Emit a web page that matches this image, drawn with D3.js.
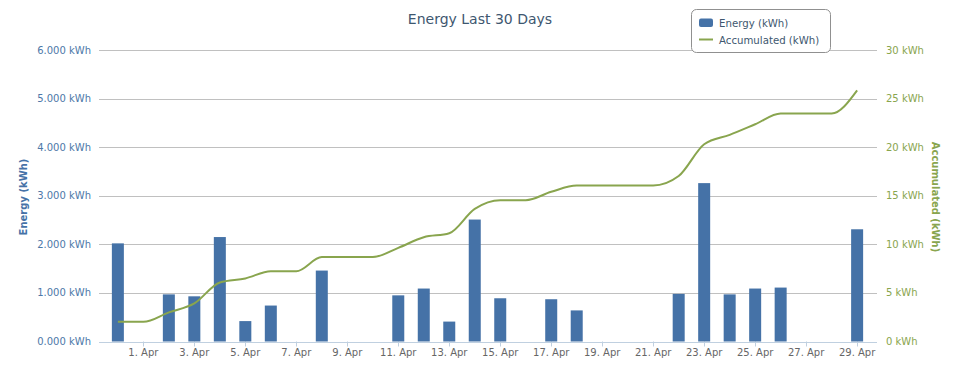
<!DOCTYPE html>
<html><head><meta charset="utf-8">
<script src="https://cdn.jsdelivr.net/npm/d3@7"></script>
<style>body{margin:0;background:#fff}svg{display:block;font-family:"DejaVu Sans",Verdana,sans-serif}</style>
</head><body><svg id="c" width="960" height="378"></svg>
<script>
const dates = ["2013-03-31","2013-04-01","2013-04-02","2013-04-03","2013-04-04","2013-04-05","2013-04-06","2013-04-07","2013-04-08","2013-04-09","2013-04-10","2013-04-11","2013-04-12","2013-04-13","2013-04-14","2013-04-15","2013-04-16","2013-04-17","2013-04-18","2013-04-19","2013-04-20","2013-04-21","2013-04-22","2013-04-23","2013-04-24","2013-04-25","2013-04-26","2013-04-27","2013-04-28","2013-04-29"];
const energy = [2.02,0,0.97,0.93,2.15,0.42,0.74,0,1.46,0,0,0.95,1.09,0.41,2.51,0.89,0,0.87,0.64,0,0,0,0.98,3.26,0.97,1.09,1.11,0,0,2.31];
const accumulated = [2.02,2.02,3.0,3.92,6.07,6.49,7.23,7.23,8.69,8.69,8.69,9.64,10.73,11.14,13.65,14.54,14.54,15.41,16.05,16.05,16.05,16.05,17.03,20.3,21.27,22.36,23.47,23.47,23.47,25.85];
const xTickDates = ["2013-04-01","2013-04-03","2013-04-05","2013-04-07","2013-04-09","2013-04-11","2013-04-13","2013-04-15","2013-04-17","2013-04-19","2013-04-21","2013-04-23","2013-04-25","2013-04-27","2013-04-29"];
const xTickLabels = ["1. Apr","3. Apr","5. Apr","7. Apr","9. Apr","11. Apr","13. Apr","15. Apr","17. Apr","19. Apr","21. Apr","23. Apr","25. Apr","27. Apr","29. Apr"];
const leftTicks = [0,1,2,3,4,5,6];
const leftTickLabels = ["0.000 kWh","1.000 kWh","2.000 kWh","3.000 kWh","4.000 kWh","5.000 kWh","6.000 kWh"];
const rightTicks = [0,5,10,15,20,25,30];
const rightTickLabels = ["0 kWh","5 kWh","10 kWh","15 kWh","20 kWh","25 kWh","30 kWh"];

const svg = d3.select("#c");
const L = 99, R = 876.5, T = 50, B = 341.5;
const parse = d3.utcParse("%Y-%m-%d");
const dayMs = 864e5;
const d0 = parse(dates[0]), d1 = parse(dates[dates.length-1]);
const x = d3.scaleUtc().domain([new Date(+d0 - 0.74*dayMs), new Date(+d1 + 0.76*dayMs)]).range([L, R]);
const yL = d3.scaleLinear().domain([0,6]).range([B, T]);
const yR = d3.scaleLinear().domain([0,30]).range([B, T]);

// grid
svg.append("g").selectAll("line").data(leftTicks.slice(1)).join("line")
  .attr("x1", L).attr("x2", R+0.5).attr("y1", d=>Math.round(yL(d))+0.5).attr("y2", d=>Math.round(yL(d))+0.5)
  .attr("stroke", "#C0C0C0").attr("stroke-width", 1);

// x axis
svg.append("line").attr("x1", L).attr("x2", R+0.5).attr("y1", Math.round(B)+0.5).attr("y2", Math.round(B)+0.5).attr("stroke", "#C0D0E0");
const xt = svg.append("g");
xt.selectAll("line").data(xTickDates).join("line")
  .attr("x1", d=>Math.round(x(parse(d)))+0.5).attr("x2", d=>Math.round(x(parse(d)))+0.5)
  .attr("y1", B).attr("y2", B+5).attr("stroke", "#C0D0E0");
xt.selectAll("text").data(xTickDates).join("text")
  .attr("x", d=>x(parse(d))).attr("y", 356).attr("text-anchor","middle")
  .attr("font-size", 10).attr("fill", "#666666").text((d,i)=>xTickLabels[i]);

// y axis labels
svg.append("g").selectAll("text").data(leftTicks).join("text")
  .attr("x", 91).attr("y", d=>yL(d)+3.5).attr("text-anchor","end").attr("font-size",10).attr("fill","#4d78a8")
  .text((d,i)=>leftTickLabels[i]);
svg.append("g").selectAll("text").data(rightTicks).join("text")
  .attr("x", 886).attr("y", d=>yR(d)+3.5).attr("text-anchor","start").attr("font-size",10).attr("fill","#89A54E")
  .text((d,i)=>rightTickLabels[i]);

// axis titles
svg.append("text").attr("transform","translate(27,197) rotate(-90)").attr("text-anchor","middle")
  .attr("font-size",10).attr("font-weight","bold").attr("fill","#4572A7").text("Energy (kWh)");
svg.append("text").attr("transform","translate(932,197) rotate(90)").attr("text-anchor","middle")
  .attr("font-size",10).attr("font-weight","bold").attr("fill","#89A54E").text("Accumulated (kWh)");

// bars
const bw = 12;
svg.append("g").selectAll("rect").data(dates.map((d,i)=>({d:parse(d), v:energy[i]})).filter(e=>e.v>0)).join("rect")
  .attr("x", e=>x(e.d)-bw/2).attr("width", bw).attr("y", e=>yL(e.v)).attr("height", e=>B-yL(e.v))
  .attr("fill", "#4572A7");

// line
const line = d3.line().x((d,i)=>x(parse(dates[i]))).y(d=>yR(d)).curve(d3.curveMonotoneX);
svg.append("path").datum(accumulated).attr("d", line).attr("fill","none").attr("stroke","#89A54E").attr("stroke-width",2);

// title
svg.append("text").attr("x",480).attr("y",23.5).attr("text-anchor","middle").attr("font-size",14).attr("fill","#3E576F").text("Energy Last 30 Days");

// legend
const lg = svg.append("g");
lg.append("rect").attr("x",691.5).attr("y",9.5).attr("width",139).attr("height",43).attr("rx",5).attr("fill","#fff").attr("stroke","#909090");
lg.append("rect").attr("x",699).attr("y",18.5).attr("width",14).attr("height",8.5).attr("rx",2).attr("fill","#4572A7");
lg.append("line").attr("x1",699).attr("x2",713).attr("y1",39.5).attr("y2",39.5).attr("stroke","#89A54E").attr("stroke-width",2);
lg.append("text").attr("x",719).attr("y",26.5).attr("font-size",10.2).attr("fill","#3E576F").text("Energy (kWh)");
lg.append("text").attr("x",719).attr("y",43.5).attr("font-size",10.2).attr("fill","#3E576F").text("Accumulated (kWh)");
</script></body></html>
